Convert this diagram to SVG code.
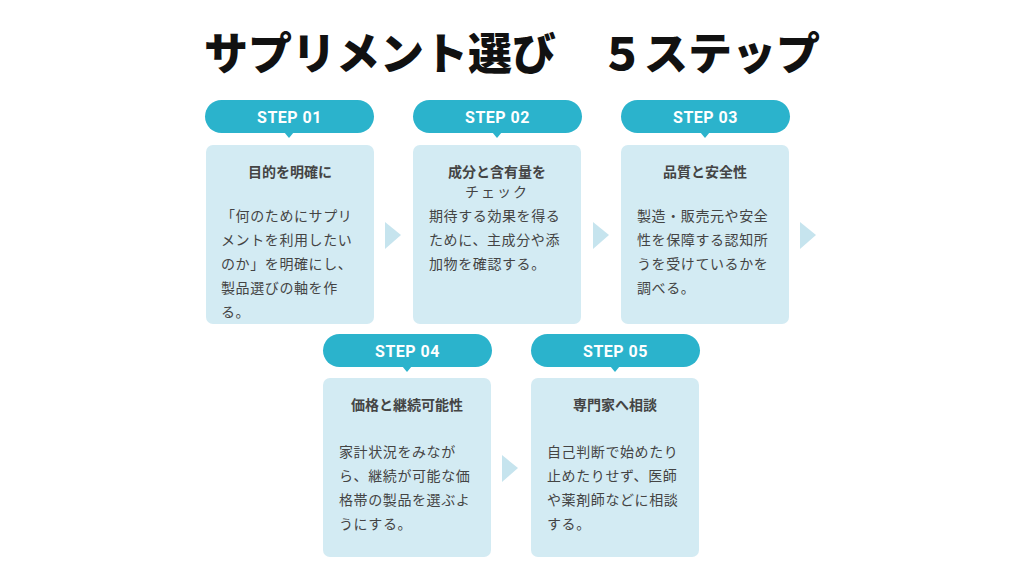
<svg xmlns="http://www.w3.org/2000/svg" width="1024" height="576" viewBox="0 0 1024 576">
<style>
.pill{fill:#2bb3cc}
.box{fill:#d3ebf3}
.arr{fill:#c6e4ee}
.st{font-family:"Roboto","Liberation Sans",sans-serif;font-weight:700;font-size:16px;fill:#fff;text-anchor:middle;letter-spacing:0.5px}
.hd{font-family:"Noto Sans CJK JP",sans-serif;font-weight:700;font-size:14px;fill:#444;text-anchor:middle}
.bd{font-family:"Noto Sans CJK JP",sans-serif;font-size:14px;fill:#444;letter-spacing:0.6px}
.ti{font-family:"Noto Sans CJK JP",sans-serif;font-weight:900;font-size:44px;fill:#111;text-anchor:middle}
</style>
<rect width="1024" height="576" fill="#fff"/>
<text class="ti" x="512" y="70">サプリメント選び　５ステップ</text>
<g id="connectors">
<polygon class="arr" points="385,222 401,235 385,249"/>
<polygon class="arr" points="593,222 609,235 593,249"/>
<polygon class="arr" points="800,222 816,235 800,249"/>
<polygon class="arr" points="502,455 518,468 502,482"/>
</g>
<g id="step01">
<rect class="pill" x="205" y="100" width="169" height="33" rx="16.5"/><polygon class="pill" points="284,132 294,132 289,138"/>
<text class="st" x="289.5" y="123">STEP 01</text>
<rect class="box" x="206" y="145" width="168" height="179" rx="7"/>
<text class="hd" x="290" y="177">目的を明確に</text>
<text class="bd" x="221"><tspan x="221" y="221">「何のためにサプリ</tspan><tspan x="221" y="245">メントを利用したい</tspan><tspan x="221" y="269">のか」を明確にし、</tspan><tspan x="221" y="293">製品選びの軸を作</tspan><tspan x="221" y="317">る。</tspan></text>
</g>
<g id="step02">
<rect class="pill" x="413" y="100" width="169" height="33" rx="16.5"/><polygon class="pill" points="492,132 502,132 497,138"/>
<text class="st" x="497.5" y="123">STEP 02</text>
<rect class="box" x="413" y="145" width="168" height="179" rx="7"/>
<text class="hd" x="497" y="177">成分と含有量を</text>
<text class="bd" x="497" y="197" text-anchor="middle" style="letter-spacing:2px">チェック</text>
<text class="bd" x="429"><tspan x="429" y="221">期待する効果を得る</tspan><tspan x="429" y="245">ために、主成分や添</tspan><tspan x="429" y="269">加物を確認する。</tspan></text>
</g>
<g id="step03">
<rect class="pill" x="621" y="100" width="169" height="33" rx="16.5"/><polygon class="pill" points="700,132 710,132 705,138"/>
<text class="st" x="705.5" y="123">STEP 03</text>
<rect class="box" x="621" y="145" width="168" height="179" rx="7"/>
<text class="hd" x="705" y="177">品質と安全性</text>
<text class="bd" x="637"><tspan x="637" y="221">製造・販売元や安全</tspan><tspan x="637" y="245">性を保障する認知所</tspan><tspan x="637" y="269">うを受けているかを</tspan><tspan x="637" y="293">調べる。</tspan></text>
</g>
<g id="step04">
<rect class="pill" x="323" y="334" width="169" height="33" rx="16.5"/><polygon class="pill" points="402,366 412,366 407,372"/>
<text class="st" x="407.5" y="357">STEP 04</text>
<rect class="box" x="323" y="378" width="168" height="179" rx="7"/>
<text class="hd" x="407" y="410">価格と継続可能性</text>
<text class="bd" x="339"><tspan x="339" y="457">家計状況をみなが</tspan><tspan x="339" y="481">ら、継続が可能な価</tspan><tspan x="339" y="505">格帯の製品を選ぶよ</tspan><tspan x="339" y="529">うにする。</tspan></text>
</g>
<g id="step05">
<rect class="pill" x="531" y="334" width="169" height="33" rx="16.5"/><polygon class="pill" points="610,366 620,366 615,372"/>
<text class="st" x="615.5" y="357">STEP 05</text>
<rect class="box" x="531" y="378" width="168" height="179" rx="7"/>
<text class="hd" x="615" y="410">専門家へ相談</text>
<text class="bd" x="547"><tspan x="547" y="457">自己判断で始めたり</tspan><tspan x="547" y="481">止めたりせず、医師</tspan><tspan x="547" y="505">や薬剤師などに相談</tspan><tspan x="547" y="529">する。</tspan></text>
</g>
</svg>
